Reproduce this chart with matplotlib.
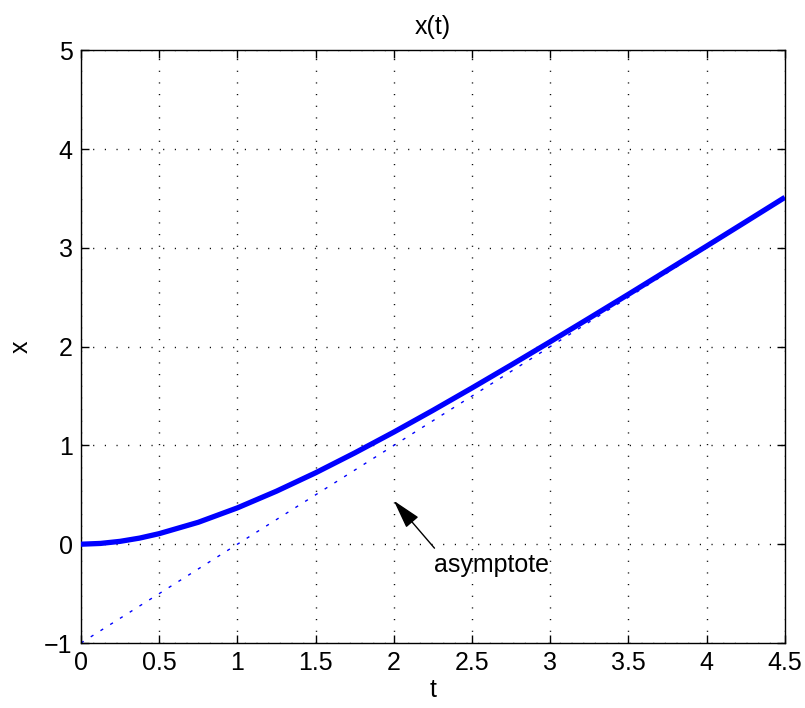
import numpy as np
import matplotlib
matplotlib.use("Agg")
import matplotlib.pyplot as plt

plt.rcParams['font.family'] = ['Liberation Sans', 'DejaVu Sans']

# values
t = [0.0, 0.125, 0.25, 0.375, 0.5, 0.75, 1.0, 1.25, 1.5, 1.75, 2.0, 2.25,
     2.5, 2.75, 3.0, 3.25, 3.5, 3.75, 4.0, 4.25, 4.5]
x = [0.0, 0.008, 0.029, 0.062, 0.107, 0.222, 0.368, 0.537, 0.723, 0.924,
     1.135, 1.355, 1.582, 1.814, 2.05, 2.289, 2.530, 2.774, 3.018, 3.264, 3.511]
# asymptote end points
t_asym = [0.0, 4.5]
x_asym = [-1.0, 3.5]

xticks = [0, 0.5, 1, 1.5, 2, 2.5, 3, 3.5, 4, 4.5]
xticklabels = ['0', '0.5', '1', '1.5', '2', '2.5', '3', '3.5', '4', '4.5']
yticks = [-1, 0, 1, 2, 3, 4, 5]
yticklabels = ['\u22121', '0', '1', '2', '3', '4', '5']


def main():
    fig = plt.figure(figsize=(8.05, 7.08), dpi=100)
    ax = fig.add_axes([0.1006, 0.0918, 0.8744, 0.8372])

    ax.plot(t, x, color='#0000ff', lw=3.8, solid_capstyle='butt', zorder=3)
    ax.plot(t_asym, x_asym, color='#0000ff', lw=1.0,
            linestyle=(0, (2.3, 6.0)), zorder=2)

    ax.set_xlim(0, 4.5)
    ax.set_ylim(-1, 5)
    ax.set_xticks(xticks)
    ax.set_xticklabels(xticklabels)
    ax.set_yticks(yticks)
    ax.set_yticklabels(yticklabels)
    ax.tick_params(direction='in', top=True, right=True, length=6,
                   width=1, labelsize=18, pad=6)
    for sp in ax.spines.values():
        sp.set_linewidth(1.0)

    ax.grid(True, color='black', linestyle=(0, (0.8, 7.6)), linewidth=1.0)
    ax.set_axisbelow(True)

    ax.set_title('x(t)', fontsize=18, pad=12)
    ax.set_xlabel('t', fontsize=18, labelpad=2)
    ax.set_ylabel('x', fontsize=18, labelpad=8)

    # arrow and label
    ax.annotate('', xy=(2.0, 0.44), xytext=(2.26, -0.04),
                arrowprops=dict(arrowstyle='-|>,head_length=1.8,head_width=0.5',
                                color='black', lw=1.0, shrinkA=0, shrinkB=0))
    ax.text(2.26, -0.21, 'asymptote', fontsize=18, ha='left', va='center')

    fig.savefig('out.png', dpi=100)
    plt.close()


if __name__ == "__main__":
    main()
